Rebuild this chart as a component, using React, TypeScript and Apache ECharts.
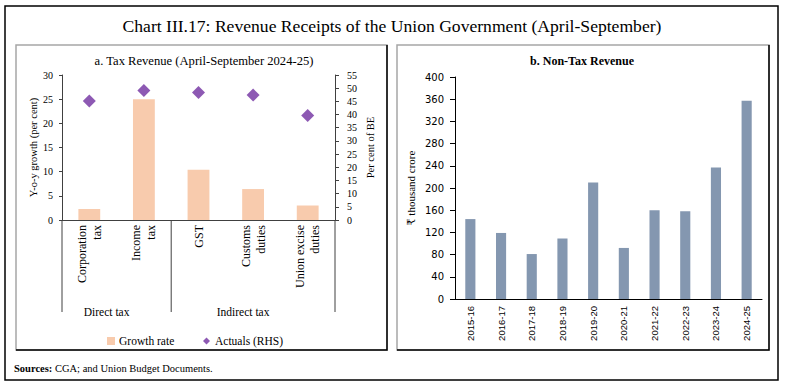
import React, { useEffect, useRef } from 'react';
import * as echarts from 'echarts';

// ---- Data ----
const taxCategories = ['Corporation\ntax', 'Income\ntax', 'GST', 'Customs\nduties', 'Union excise\nduties'];
const taxGroups = ['Direct tax', 'Indirect tax'];
const taxGroupSizes = [2, 3];
const growthRate = [2.3, 25.0, 10.4, 6.4, 3.0];
const actualsRHS = [45.1, 49.1, 48.4, 47.4, 39.6];
const years = ['2015-16', '2016-17', '2017-18', '2018-19', '2019-20', '2020-21', '2021-22', '2022-23', '2023-24', '2024-25'];
const nonTaxRevenue = [144, 119, 81, 109, 210, 92, 160, 158, 237, 357];

const mainTitle = 'Chart III.17: Revenue Receipts of the Union Government (April-September)';
const titleA = 'a. Tax Revenue (April-September 2024-25)';
const titleB = 'b. Non-Tax Revenue';
const sourcesText = 'CGA; and Union Budget Documents.';

const SERIF = "'Liberation Serif', 'DejaVu Serif', serif";
const SANS = "'Liberation Sans', 'DejaVu Sans', sans-serif";
const WIDE_SANS = "'DejaVu Sans', 'Liberation Sans', sans-serif";

export default function App() {
  const ref = useRef<HTMLDivElement>(null);

  useEffect(() => {
    if (!ref.current) return;
    const chart = echarts.init(ref.current, undefined, { renderer: 'svg' });

    const axisTxt = { fontFamily: SERIF, color: '#000' };

    chart.setOption({
      animation: false,
      backgroundColor: '#ffffff',
      grid: [
        { left: 62, top: 75, width: 273, height: 145 },
        { left: 455, top: 77, width: 307, height: 222 },
      ],
      xAxis: [
        {
          gridIndex: 0,
          type: 'category',
          data: taxCategories,
          axisLine: { lineStyle: { color: '#404040', width: 1 } },
          axisTick: { show: false },
          axisLabel: { ...axisTxt, fontSize: 12, rotate: 90, margin: 5, interval: 0, lineHeight: 15 },
        },
        {
          gridIndex: 1,
          type: 'category',
          data: years,
          axisLine: { lineStyle: { color: '#000', width: 1 } },
          axisTick: { show: false },
          axisLabel: { fontFamily: SANS, color: '#000', fontSize: 9.5, rotate: 90, margin: 7, interval: 0 },
        },
      ],
      yAxis: [
        {
          gridIndex: 0,
          type: 'value',
          min: 0,
          max: 30,
          interval: 5,
          position: 'left',
          axisLine: { show: true, lineStyle: { color: '#404040' } },
          axisTick: { show: true, length: 3, lineStyle: { color: '#404040' } },
          axisLabel: { ...axisTxt, fontSize: 10, margin: 9 },
          splitLine: { show: false },
          name: 'Y-o-y growth (per cent)',
          nameLocation: 'middle',
          nameRotate: 90,
          nameGap: 22,
          nameTextStyle: { ...axisTxt, fontSize: 10.5 },
        },
        {
          gridIndex: 0,
          type: 'value',
          min: 0,
          max: 55,
          interval: 5,
          position: 'right',
          axisLine: { show: true, lineStyle: { color: '#404040' } },
          axisTick: { show: true, length: 4, lineStyle: { color: '#404040' } },
          axisLabel: { ...axisTxt, fontSize: 10, margin: 12 },
          splitLine: { show: false },
          name: 'Per cent of BE',
          nameLocation: 'middle',
          nameRotate: 90,
          nameGap: 30,
          nameTextStyle: { ...axisTxt, fontSize: 10.5 },
        },
        {
          gridIndex: 1,
          type: 'value',
          min: 0,
          max: 400,
          interval: 40,
          axisLine: { show: true, lineStyle: { color: '#000' } },
          axisTick: { show: true, length: 5, lineStyle: { color: '#000' } },
          axisLabel: { fontFamily: WIDE_SANS, color: '#000', fontSize: 10, margin: 11 },
          splitLine: { show: false },
          name: '₹ thousand crore',
          nameLocation: 'middle',
          nameRotate: 90,
          nameGap: 39,
          nameTextStyle: { ...axisTxt, fontSize: 11 },
        },
      ],
      legend: [
        {
          data: ['Growth rate'],
          left: 102,
          top: 330,
          icon: 'rect',
          itemWidth: 8,
          itemHeight: 8,
          itemGap: 4,
          textStyle: { ...axisTxt, fontSize: 11.5, padding: [0, 0, 0, -1] },
        },
        {
          data: ['Actuals (RHS)'],
          left: 198,
          top: 330,
          icon: 'diamond',
          itemWidth: 7,
          itemHeight: 7,
          textStyle: { ...axisTxt, fontSize: 11.5 },
        },
      ],
      series: [
        {
          name: 'Growth rate',
          type: 'bar',
          xAxisIndex: 0,
          yAxisIndex: 0,
          data: growthRate,
          barWidth: '40%',
          itemStyle: { color: '#F8CBAD' },
        },
        {
          name: 'Actuals (RHS)',
          type: 'scatter',
          xAxisIndex: 0,
          yAxisIndex: 1,
          data: actualsRHS,
          symbol: 'diamond',
          symbolSize: 13,
          itemStyle: { color: '#7030A0' },
        },
        {
          name: 'Non-tax revenue',
          type: 'bar',
          xAxisIndex: 1,
          yAxisIndex: 2,
          data: nonTaxRevenue,
          barWidth: '33%',
          itemStyle: { color: '#8497B0' },
        },
      ],
    });

    // separators & group labels below the tax category axis
    const p0 = chart.convertToPixel({ xAxisIndex: 0 }, 0) as number;
    const p1 = chart.convertToPixel({ xAxisIndex: 0 }, 1) as number;
    const step = p1 - p0;
    const axisY = chart.convertToPixel({ yAxisIndex: 0 }, 0) as number;
    const sepBottom = axisY + 92;
    const bounds: number[] = [p0 - step / 2];
    taxGroupSizes.forEach((n) => bounds.push(bounds[bounds.length - 1] + n * step));

    const graphics: any[] = [
      { type: 'rect', shape: { x: 5, y: 6, width: 773, height: 374 }, style: { fill: 'none', stroke: '#000', lineWidth: 1.5 }, z: 10 },
      // panels
      { type: 'rect', shape: { x: 16, y: 45, width: 371, height: 305 }, style: { fill: 'none', stroke: '#A6A6A6', lineWidth: 1.5 }, z: 10 },
      { type: 'polyline', shape: { points: [[387, 45], [387, 350], [16, 350]] }, style: { fill: 'none', stroke: '#000', lineWidth: 1.5 }, z: 11 },
      { type: 'rect', shape: { x: 397, y: 45, width: 372, height: 305 }, style: { fill: 'none', stroke: '#A6A6A6', lineWidth: 1.5 }, z: 10 },
      { type: 'polyline', shape: { points: [[769, 45], [769, 350], [397, 350]] }, style: { fill: 'none', stroke: '#000', lineWidth: 1.5 }, z: 11 },
      // titles
      { type: 'text', x: 392, y: 26, style: { text: mainTitle, font: `17.6px ${SERIF}`, fill: '#000', textAlign: 'center', textVerticalAlign: 'middle' } },
      { type: 'text', x: 204, y: 61, style: { text: titleA, font: `12.6px ${SERIF}`, fill: '#000', textAlign: 'center', textVerticalAlign: 'middle' } },
      { type: 'text', x: 582, y: 61, style: { text: titleB, font: `bold 12px ${SERIF}`, fill: '#000', textAlign: 'center', textVerticalAlign: 'middle' } },
      {
        type: 'text',
        x: 14,
        y: 368,
        style: {
          text: '{b|Sources:} ' + sourcesText,
          font: `10.5px ${SERIF}`,
          fill: '#000',
          textVerticalAlign: 'middle',
          rich: { b: { fontWeight: 'bold', fontFamily: SERIF, fontSize: 10.5 } },
        },
      },
    ];
    bounds.forEach((bx) => {
      graphics.push({ type: 'line', shape: { x1: bx, y1: axisY, x2: bx, y2: sepBottom }, style: { stroke: '#404040', lineWidth: 1 } });
    });
    taxGroups.forEach((g, i) => {
      const cx = (bounds[i] + bounds[i + 1]) / 2 - 10;
      graphics.push({ type: 'text', x: cx, y: sepBottom, style: { text: g, font: `11.5px ${SERIF}`, fill: '#000', textAlign: 'center', textVerticalAlign: 'middle' } });
    });

    chart.setOption({ graphic: graphics });

    return () => chart.dispose();
  }, []);

  return <div ref={ref} style={{ position: 'absolute', left: 0, top: 0, width: 786, height: 384 }} />;
}
